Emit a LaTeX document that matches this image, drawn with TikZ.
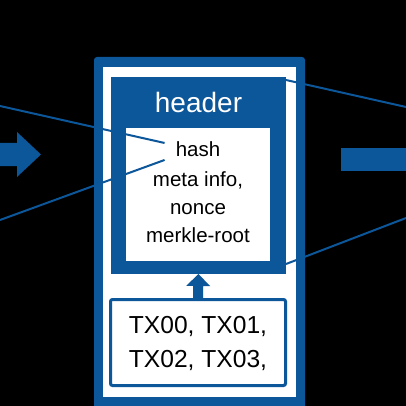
\documentclass[tikz,border=0pt]{standalone}
\usepackage{fontspec}
\setmainfont{Liberation Sans}
\usetikzlibrary{arrows.meta}
\definecolor{bblue}{RGB}{12,86,154}
\begin{document}
\begin{tikzpicture}[x=1pt,y=-1pt,
  box/.style={inner sep=0pt,outer sep=0pt,draw=none},
  link/.style={draw=bblue,line width=2pt},
  txt/.style={inner sep=0pt,anchor=base,align=center}]
\useasboundingbox (0,0) rectangle (406,406);
\clip (0,0) rectangle (406,406);
\fill[black] (0,0) rectangle (406,406);
% block
\node[box,fill=bblue,rounded corners=3pt,minimum width=211pt,minimum height=358pt] (outer) at (199.5,236) {};
\node[box,fill=white,minimum width=193pt,minimum height=330pt] (inner) at (199.5,232) {};
\node[box,fill=bblue,minimum width=175pt,minimum height=197pt] (header) at (198.5,175.5) {};
\node[box,fill=white,minimum width=144pt,minimum height=133pt] (fields) at (198,194.5) {};
\node[txt,text=white,font=\fontsize{28}{32}\selectfont] (htitle) at (198.5,112.5) {header};
\node[txt,inner xsep=11pt,font=\fontsize{20.5}{28}\selectfont] (hash) at (198,157) {hash};
\node[txt,font=\fontsize{20.5}{28}\selectfont] (meta) at (198,242) {meta info,\\nonce\\merkle-root};
% transactions
\node[box,draw=bblue,line width=3pt,fill=white,rounded corners=2pt,minimum width=175pt,minimum height=86pt] (txbox) at (198,342.5) {};
\node[txt,font=\fontsize{24.6}{34}\selectfont] (txtext) at (198,367) {TX00, TX01,\\TX02, TX03,};
\draw[bblue,line width=10pt,-{Triangle[width=24pt,length=12pt,line width=0pt]}] ([yshift=1.5pt]txbox.north) -- (header.south);
% side arrows
\fill[bblue] (0,143) -- (17,143) -- (17,132) -- (41,154.5) -- (17,177) -- (17,166) -- (0,166) -- cycle;
\fill[bblue] (341,148) rectangle (406,171);
% links
\coordinate (la) at (0,106);
\coordinate (lb) at (0,220);
\coordinate (ra) at (406,107);
\coordinate (rb) at (406,218);
\draw[link] (la) -- ([yshift=6.7pt]hash.west);
\draw[link] (lb) -- ([yshift=-10.3pt]hash.west);
\draw[link] ([yshift=-3pt]header.north east) -- (ra);
\draw[link] ([yshift=10pt]header.south east) -- (rb);
\end{tikzpicture}
\end{document}
